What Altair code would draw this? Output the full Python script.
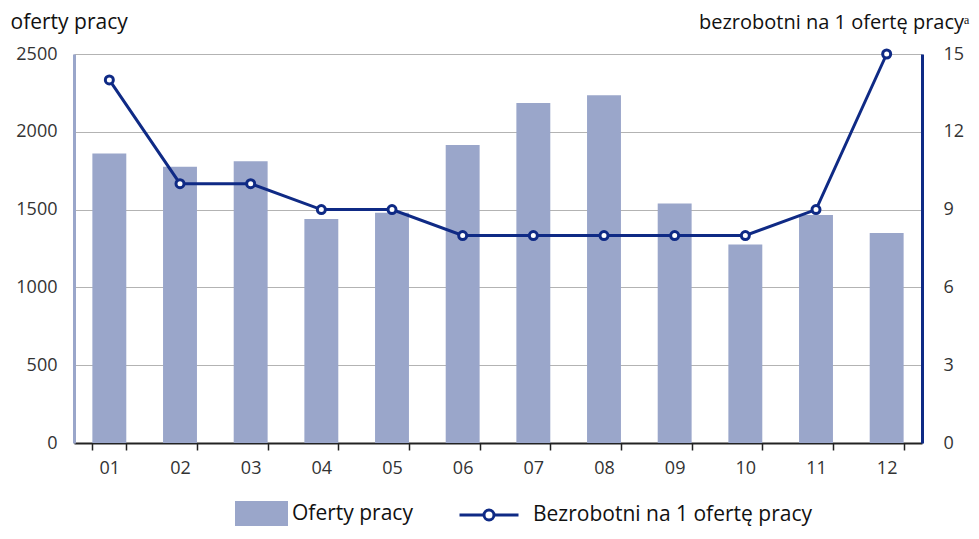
import altair as alt
import pandas as pd

months = ["01", "02", "03", "04", "05", "06", "07", "08", "09", "10", "11", "12"]
oferty = [1860, 1775, 1810, 1440, 1480, 1915, 2185, 2235, 1540, 1275, 1465, 1350]
bezrobotni = [14, 10, 10, 9, 9, 8, 8, 8, 8, 8, 9, 15]

BAR = "#9aa6ca"
NAVY = "#0f2a85"
FONT = "Open Sans"

df = pd.DataFrame({
    "m": months,
    "o": oferty,
    "b": bezrobotni,
    "s1": "Oferty pracy",
    "s2": "Bezrobotni na 1 ofertę pracy",
})

xenc = alt.X(
    "m:N",
    sort=months,
    scale=alt.Scale(paddingInner=0.52, paddingOuter=0.26),
    axis=alt.Axis(
        title=None, labelAngle=0, tickBand="extent", ticks=True, tickSize=7,
        tickColor="#222222", tickWidth=1.5, domainColor="#222222", domainWidth=2,
        labelPadding=9, labelFontSize=18, labelColor="#333333", grid=False,
    ),
)

bars = alt.Chart(df).mark_bar().encode(
    x=xenc,
    y=alt.Y(
        "o:Q",
        scale=alt.Scale(domain=[0, 2500]),
        axis=alt.Axis(
            title="oferty pracy", titleAngle=0, titleAlign="left", titleBaseline="alphabetic",
            titleX=-64, titleY=-26, titleFontSize=21, titleFontWeight="normal", titleColor="#111111",
            values=[0, 500, 1000, 1500, 2000, 2500], format="d", ticks=False, labelPadding=17,
            labelFontSize=18, labelColor="#333333", domainColor=BAR, domainWidth=3,
            grid=True, gridColor="#b3b3b3", gridWidth=1, orient="left",
        ),
    ),
    color=alt.Color(
        "s1:N",
        scale=alt.Scale(domain=["Oferty pracy"], range=[BAR]),
        legend=alt.Legend(
            title=None, orient="none", legendX=161, legendY=433, padding=0,
            symbolType="M-1,-0.47H1V0.47H-1Z", symbolSize=2809, symbolStrokeWidth=0,
            symbolOpacity=1, labelFontSize=21, labelColor="#111111", labelOffset=4,
            labelLimit=400,
        ),
    ),
)

line = alt.Chart(df).mark_line(strokeWidth=3).encode(
    x=alt.X("m:N", sort=months),
    y=alt.Y(
        "b:Q",
        scale=alt.Scale(domain=[0, 15]),
        axis=alt.Axis(
            title="bezrobotni na 1 ofertę pracyᵃ", titleAngle=0, titleAlign="right",
            titleBaseline="alphabetic", titleX=47, titleY=-26, titleFontSize=20,
            titleFontWeight="normal", titleColor="#111111",
            values=[0, 3, 6, 9, 12, 15], ticks=False, labelPadding=21,
            labelFontSize=18, labelColor="#333333", domainColor=NAVY, domainWidth=3,
            grid=False, orient="right",
        ),
    ),
    stroke=alt.Stroke(
        "s2:N",
        scale=alt.Scale(domain=["Bezrobotni na 1 ofertę pracy"], range=[NAVY]),
        legend=alt.Legend(
            title=None, orient="none", legendX=384, legendY=430, padding=0,
            symbolType="M-1,0H-0.17M0.17,0H1M-0.17,0A0.17,0.17,0,1,1,0.17,0A0.17,0.17,0,1,1,-0.17,0",
            symbolSize=3481, symbolStrokeWidth=3, symbolFillColor="white",
            labelFontSize=21, labelColor="#111111", labelOffset=13, labelLimit=500,
        ),
    ),
)

points = alt.Chart(df).mark_point(
    shape="circle", filled=True, fill="white", stroke=NAVY, strokeWidth=3, size=64, opacity=1
).encode(
    x=alt.X("m:N", sort=months),
    y=alt.Y("b:Q", scale=alt.Scale(domain=[0, 15])),
)

chart = alt.layer(bars, alt.layer(line, points)).resolve_scale(y="independent").properties(
    width=848,
    height=389,
    padding={"left": 66, "top": 46, "right": 48, "bottom": 84},
    autosize=alt.AutoSizeParams(type="none"),
).configure_view(stroke=None).configure(font=FONT)

chart.save("out.html", embed_options={"renderer": "svg", "actions": False})
